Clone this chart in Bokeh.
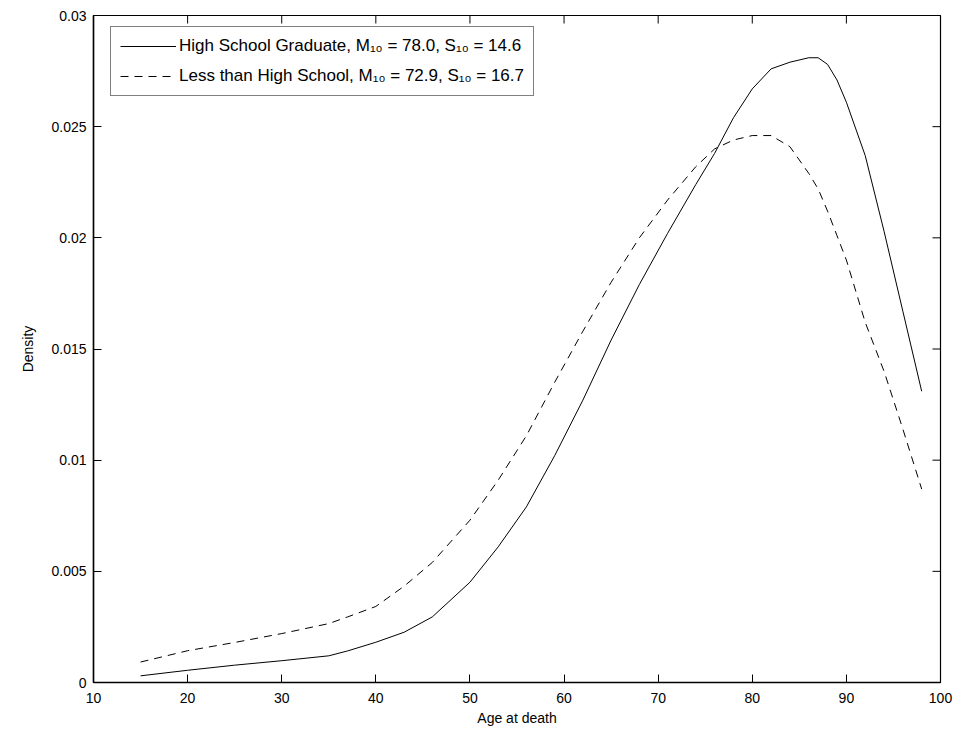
import math
from bokeh.plotting import figure
from bokeh.models import FixedTicker, CustomJSTickFormatter, Legend, LegendItem, Range1d
from bokeh.embed import file_html
from bokeh.resources import INLINE

ages = [15, 20, 25, 30, 35, 37, 40, 43, 46, 50, 53, 56, 59, 62, 65, 68, 71, 74, 76, 78,
        80, 82, 84, 86, 87, 88, 89, 90, 92, 94, 96, 98]
hs_grad = [0.00030, 0.00055, 0.00078, 0.00098, 0.00120, 0.00142, 0.00181, 0.00226, 0.00295,
           0.00451, 0.0061, 0.0079, 0.0102, 0.0127, 0.0154, 0.0179, 0.0202, 0.0224,
           0.0238, 0.0254, 0.0267, 0.0276, 0.0279, 0.0281, 0.0281, 0.0278, 0.0271,
           0.0261, 0.0237, 0.0203, 0.0167, 0.0131]
less_hs = [0.00092, 0.00143, 0.00180, 0.00220, 0.00265, 0.00295, 0.00342, 0.00433, 0.0054,
           0.0073, 0.0091, 0.0111, 0.0135, 0.0158, 0.0180, 0.0200, 0.0217, 0.0232,
           0.0240, 0.0244, 0.0246, 0.0246, 0.0241, 0.0229, 0.0222, 0.0212, 0.0201,
           0.0190, 0.0162, 0.0140, 0.0114, 0.0087]

x_ticks = [10, 20, 30, 40, 50, 60, 70, 80, 90, 100]
y_ticks = [0, 0.005, 0.01, 0.015, 0.02, 0.025, 0.03]
label_hs = "High School Graduate, M\u2081\u2080 = 78.0, S\u2081\u2080 = 14.6"
label_less = "Less than High School, M\u2081\u2080 = 72.9, S\u2081\u2080 = 16.7"

FONT = "Liberation Sans"
X_MIN, X_MAX = 10, 100
Y_MIN, Y_MAX = 0, 0.03

p = figure(frame_width=847, frame_height=667, output_backend="svg", toolbar_location=None,
           x_range=Range1d(X_MIN, X_MAX), y_range=Range1d(Y_MIN, Y_MAX),
           min_border_left=93, min_border_right=15, min_border_top=15, min_border_bottom=50)
p.xgrid.visible = False
p.ygrid.visible = False
p.outline_line_color = "black"
p.outline_line_width = 1.2

fmt = CustomJSTickFormatter(code="return Number(tick.toPrecision(6)).toString();")

def style_axis(ax, ticks):
    ax.ticker = FixedTicker(ticks=ticks)
    ax.formatter = fmt
    ax.major_tick_in = 8
    ax.major_tick_out = 0
    ax.minor_tick_in = 0
    ax.minor_tick_out = 0
    ax.axis_line_color = "black"
    ax.axis_line_width = 1.5
    ax.major_tick_line_color = "black"
    ax.major_label_text_font = FONT
    ax.major_label_text_font_size = "14px"
    ax.major_label_text_color = "black"
    ax.axis_label_text_font = FONT
    ax.axis_label_text_font_size = "14px"
    ax.axis_label_text_font_style = "normal"
    ax.axis_label_text_color = "black"

style_axis(p.xaxis[0], x_ticks)
style_axis(p.yaxis[0], y_ticks)
p.xaxis[0].axis_label = "Age at death"
p.xaxis[0].major_label_standoff = 10
p.xaxis[0].axis_label_standoff = 4
p.yaxis[0].axis_label = "Density"
p.yaxis[0].major_label_standoff = 7
p.yaxis[0].axis_label_standoff = 12

# mirrored inward ticks on the top and right frame edges
p.ray(x=x_ticks, y=[Y_MAX] * len(x_ticks), length=8, length_units="screen",
      angle=-math.pi / 2, line_color="black", line_width=1)
p.ray(x=[X_MAX] * len(y_ticks), y=y_ticks, length=8, length_units="screen",
      angle=math.pi, line_color="black", line_width=1)

r1 = p.line(ages, hs_grad, line_color="black", line_width=1)
r2 = p.line(ages, less_hs, line_color="black", line_width=1, line_dash="8 6")

legend = Legend(items=[LegendItem(label=label_hs, renderers=[r1]),
                       LegendItem(label=label_less, renderers=[r2])],
                location=(17, 586))
legend.label_text_font = FONT
legend.label_text_font_size = "17px"
legend.label_text_color = "black"
legend.glyph_width = 56
legend.glyph_height = 20
legend.label_height = 20
legend.label_standoff = 3
legend.spacing = 10
legend.padding = 9
legend.margin = 0
legend.border_line_color = "black"
legend.border_line_width = 1
legend.background_fill_color = "white"
legend.background_fill_alpha = 1
p.add_layout(legend)

open("out.html", "w").write(file_html(p, INLINE))
